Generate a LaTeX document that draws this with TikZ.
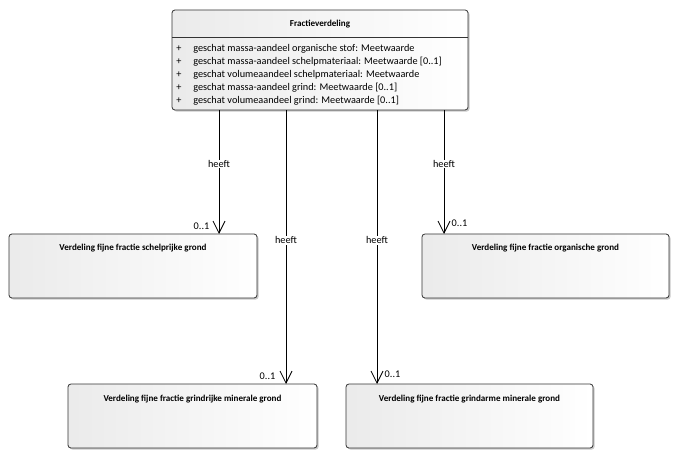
\documentclass[tikz,border=0pt]{standalone}
\usepackage{fontspec}
\setmainfont{Carlito}
\usetikzlibrary{arrows.meta,shadows}
\begin{document}
\begin{tikzpicture}[x=0.75pt,y=-0.75pt,
  cls/.style={draw=black!80,line width=0.6pt,rounded corners=2.2pt,left color=black!8,right color=white,
    drop shadow={shadow xshift=1.2pt,shadow yshift=-1.2pt,fill=black!35,opacity=0.6}},
  ttl/.style={font=\fontsize{6.8}{7}\selectfont\bfseries,anchor=center},
  attr/.style={font=\fontsize{7.7}{8}\selectfont,anchor=west,inner sep=0pt},
  lbl/.style={font=\fontsize{7.7}{8}\selectfont,fill=white,inner sep=0.6pt},
  mult/.style={font=\fontsize{7.7}{8}\selectfont,inner sep=0pt},
  assoc/.style={draw=black,line width=0.6pt,-{Straight Barb[length=9pt,width=9pt,line width=0.6pt]}}]
\useasboundingbox (0,0) rectangle (680,459);
% top class
\path[cls] (172,10) rectangle (468,110);
\draw[black!80,line width=0.6pt] (172,37) -- (468,37);
\node[ttl] (toptitle) at (320,24.5) {Fractieverdeling};
\foreach \yy/\t [count=\i] in {48.5/{geschat massa-aandeel organische stof: Meetwaarde},
  61.5/{geschat massa-aandeel schelpmateriaal: Meetwaarde [0..1]},
  74.5/{geschat volumeaandeel schelpmateriaal: Meetwaarde},
  87.5/{geschat massa-aandeel grind: Meetwaarde [0..1]},
  100.5/{geschat volumeaandeel grind: Meetwaarde [0..1]}}{
  \node[attr] (plus\i) at (176,\yy) {+};
  \node[attr] (attr\i) at (193,\yy) {\t};
}
% sub classes
\path[cls] (9,234) rectangle (257,298);
\node[ttl] (b1) at (133,248.5) {Verdeling fijne fractie schelprijke grond};
\path[cls] (422,234) rectangle (669,298);
\node[ttl] (b2) at (545.5,248.5) {Verdeling fijne fractie organische grond};
\path[cls] (68,384) rectangle (317,448);
\node[ttl] (b3) at (192.5,399.5) {Verdeling fijne fractie grindrijke minerale grond};
\path[cls] (346,384) rectangle (593,448);
\node[ttl] (b4) at (469.5,399.5) {Verdeling fijne fractie grindarme minerale grond};
% connector endpoints
\coordinate (s1) at (219,110); \coordinate (e1) at (219,234);
\coordinate (s2) at (286,110); \coordinate (e2) at (286,384);
\coordinate (s3) at (377,110); \coordinate (e3) at (377,384);
\coordinate (s4) at (444,110); \coordinate (e4) at (444,234);
\draw[assoc] (s1) -- node[lbl,pos=0.435] (h1) {heeft} (e1);
\draw[assoc] (s2) -- node[lbl,pos=0.475] (h2) {heeft} (e2);
\draw[assoc] (s3) -- node[lbl,pos=0.475] (h3) {heeft} (e3);
\draw[assoc] (s4) -- node[lbl,pos=0.435] (h4) {heeft} (e4);
\node[mult] (m1) at (201.5,226) {0..1};
\node[mult] (m2) at (459.5,223) {0..1};
\node[mult] (m3) at (267.5,376) {0..1};
\node[mult] (m4) at (392.5,374) {0..1};
\end{tikzpicture}
\end{document}
